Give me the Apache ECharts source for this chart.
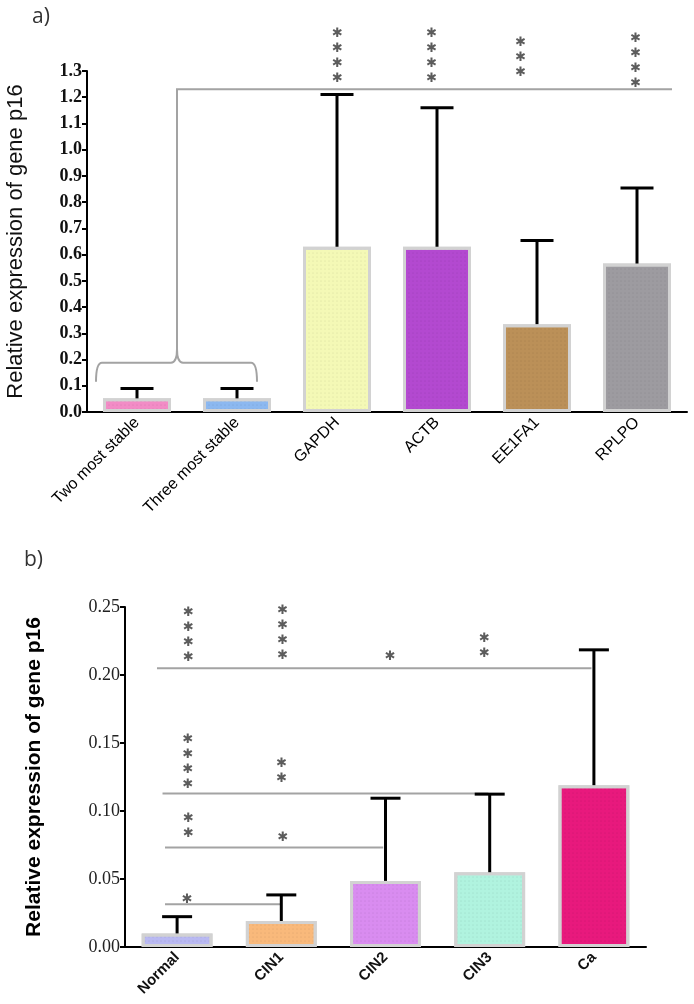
<!DOCTYPE html>
<html><head><meta charset="utf-8">
<script src="https://cdn.jsdelivr.net/npm/echarts@6/dist/echarts.min.js"></script>
<style>html,body{margin:0;padding:0;background:#fff}#c{width:694px;height:1004px}</style>
</head><body><div id="c"></div>
<script>
// ---- panel a) data ----
const topCats = ['Two most stable','Three most stable','GAPDH','ACTB','EE1FA1','RPLPO'];
const topMeans = [0.052, 0.052, 0.630, 0.630, 0.335, 0.566];
const topUpper = [0.090, 0.090, 1.210, 1.160, 0.654, 0.854];
const topColors = ['#f28cc6','#8cb8f0','#f4f9b6','#b349d0','#bb9058','#9d9ba0'];
const topStarX = [2.505, 3.447, 4.337, 5.487];
const topStarY = [1.240, 1.240, 1.263, 1.221];
const topStarN = [4, 4, 3, 4];
// bracket: vertical from brace tip to line, then line across
const topBracePts = [[0.09,0.115],[0.90,0.188],[1.70,0.115]]; // left end, centre, right end
const topBraceTip = 0.24;
const topLine = [0.90, 5.85, 1.23];
// ---- panel b) data ----
const botCats = ['Normal','CIN1','CIN2','CIN3','Ca'];
const botMeans = [0.0100, 0.0191, 0.0486, 0.0550, 0.1190];
const botUpper = [0.0223, 0.0383, 0.1094, 0.1124, 0.2185];
const botColors = ['#b9b9f2','#f9b97b','#d98cf0','#b0f3df','#e8197d'];
const botStarX = [0.610, 1.513, 2.546, 3.449, 0.604, 1.504, 0.608, 1.515, 0.598];
const botStarY = [0.2069, 0.2086, 0.2074, 0.2101, 0.1137, 0.1181, 0.0776, 0.0749, 0.0291];
const botStarN = [4, 4, 1, 2, 4, 2, 2, 1, 1];
const botLineX1 = [0.307, 0.360, 0.384, 0.384];
const botLineX2 = [4.477, 3.487, 2.478, 1.489];
const botLineY  = [0.205, 0.1128, 0.0731, 0.0314];

const STAR = '\u2731';
const chart = echarts.init(document.getElementById('c'));

function decalFor(){
  return {symbol:'circle', symbolSize:0.6, dashArrayX:[[2,2]], dashArrayY:[2,2], color:'rgba(0,0,0,0.13)'};
}
function barData(means, colors){
  return means.map((v,i)=>({value:v, itemStyle:{color:colors[i], decal:decalFor()}}));
}
function errRender(capW){
  return function(params, api){
    const x = api.value(0);
    const base = api.coord([x, api.value(1)]);
    const top = api.coord([x, api.value(2)]);
    const st = {stroke:'#000', lineWidth:3};
    return {type:'group', children:[
      {type:'line', shape:{x1:base[0], y1:base[1], x2:top[0], y2:top[1]}, style:st},
      {type:'line', shape:{x1:top[0]-capW/2, y1:top[1], x2:top[0]+capW/2, y2:top[1]}, style:st}
    ]};
  };
}
function starSeries(xs, ys, ns, xi, yi){
  return {
    type:'scatter', xAxisIndex:xi, yAxisIndex:yi, clip:false, symbolSize:1, z:10,
    itemStyle:{color:'rgba(0,0,0,0)'},
    data: xs.map((x,i)=>[x, ys[i], ns[i]]),
    label:{show:true, position:'top', distance:0,
      formatter:p=>Array(p.value[2]).fill(STAR).join('\n'),
      fontSize:13, lineHeight:15, color:'#333', fontFamily:'DejaVu Sans'}
  };
}
const grayLine = {stroke:'#a3a3a3', lineWidth:2, fill:null};

const option = {
  animation:false,
  backgroundColor:'#fff',
  graphic:[
    {type:'text', left:32, top:7, style:{text:'a)', font:'21px "Open Sans"', fill:'#333'}},
    {type:'text', left:24, top:550, style:{text:'b)', font:'21px "Open Sans"', fill:'#333'}}
  ],
  grid:[
    {left:87, top:71, width:600, height:341, outerBoundsMode:'none', containLabel:false},
    {left:125, top:607, width:521, height:340, outerBoundsMode:'none', containLabel:false}
  ],
  xAxis:[
    {type:'category', gridIndex:0, data:topCats,
      axisLine:{lineStyle:{color:'#000', width:2}},
      axisTick:{alignWithLabel:true, length:5, lineStyle:{color:'#000', width:2}},
      axisLabel:{rotate:45, interval:0, margin:8, fontSize:16, color:'#000', fontFamily:'Liberation Sans'}},
    {type:'category', gridIndex:1, data:botCats,
      axisLine:{lineStyle:{color:'#000', width:2}},
      axisTick:{alignWithLabel:true, length:5, lineStyle:{color:'#000', width:2}},
      axisLabel:{rotate:45, interval:0, margin:8, fontSize:15, fontWeight:'bold', color:'#111', fontFamily:'Liberation Sans'}},
    {type:'value', gridIndex:0, min:0, max:6, show:false},
    {type:'value', gridIndex:1, min:0, max:5, show:false}
  ],
  yAxis:[
    {type:'value', gridIndex:0, min:0, max:1.3, interval:0.1,
      name:'Relative expression of gene p16', nameLocation:'middle', nameGap:60,
      nameTextStyle:{fontSize:22, color:'#111', fontFamily:'Liberation Sans'},
      axisLine:{show:true, lineStyle:{color:'#000', width:2}},
      axisTick:{show:true, length:5, lineStyle:{color:'#000', width:2}},
      splitLine:{show:false},
      axisLabel:{formatter:v=>v.toFixed(1), fontSize:18, fontWeight:'bold', color:'#111', fontFamily:'Liberation Serif', margin:5}},
    {type:'value', gridIndex:1, min:0, max:0.25, interval:0.05,
      name:'Relative expression of gene p16', nameLocation:'middle', nameGap:80,
      nameTextStyle:{fontSize:21, fontWeight:'bold', color:'#000', fontFamily:'Liberation Sans'},
      axisLine:{show:true, lineStyle:{color:'#000', width:2}},
      axisTick:{show:true, length:5, lineStyle:{color:'#000', width:2}},
      splitLine:{show:false},
      axisLabel:{formatter:v=>v.toFixed(2), fontSize:18, color:'#222', fontFamily:'Liberation Serif', margin:5}}
  ],
  series:[
    {type:'bar', xAxisIndex:0, yAxisIndex:0, barWidth:'68%',
      itemStyle:{borderColor:'#d2d2d2', borderWidth:3},
      data:barData(topMeans, topColors)},
    {type:'bar', xAxisIndex:1, yAxisIndex:1, barWidth:'68%',
      itemStyle:{borderColor:'#d2d2d2', borderWidth:3},
      data:barData(botMeans, botColors)},
    {type:'custom', xAxisIndex:0, yAxisIndex:0, z:5, renderItem:errRender(33),
      data:topMeans.map((v,i)=>[i, v, topUpper[i]])},
    {type:'custom', xAxisIndex:1, yAxisIndex:1, z:5, renderItem:errRender(30),
      data:botMeans.map((v,i)=>[i, v, botUpper[i]])},
    // bracket of panel a)
    {type:'custom', xAxisIndex:2, yAxisIndex:0, z:4, clip:false,
      data:[[0]],
      renderItem:function(params, api){
        const L = api.coord(topBracePts[0]), C = api.coord(topBracePts[1]), R = api.coord(topBracePts[2]);
        const T = api.coord([topBracePts[1][0], topBraceTip]);
        const A = api.coord([topLine[0], topLine[2]]), B = api.coord([topLine[1], topLine[2]]);
        const r = 6;
        const d = 'M'+L[0]+' '+L[1]+' Q'+L[0]+' '+C[1]+' '+(L[0]+r)+' '+C[1]+
          ' L'+(C[0]-r)+' '+C[1]+' Q'+C[0]+' '+C[1]+' '+C[0]+' '+T[1]+
          ' Q'+C[0]+' '+C[1]+' '+(C[0]+r)+' '+C[1]+
          ' L'+(R[0]-r)+' '+C[1]+' Q'+R[0]+' '+C[1]+' '+R[0]+' '+R[1]+
          ' M'+C[0]+' '+T[1]+' L'+A[0]+' '+A[1]+' L'+B[0]+' '+B[1];
        return {type:'path', shape:{pathData:d}, style:grayLine};
      }},
    // significance lines of panel b)
    {type:'custom', xAxisIndex:3, yAxisIndex:1, z:4, clip:false,
      data:botLineY.map((y,i)=>[botLineX1[i], botLineX2[i], y]),
      renderItem:function(params, api){
        const a = api.coord([api.value(0), api.value(2)]);
        const b = api.coord([api.value(1), api.value(2)]);
        return {type:'line', shape:{x1:a[0], y1:a[1], x2:b[0], y2:b[1]}, style:grayLine};
      }},
    starSeries(topStarX, topStarY, topStarN, 2, 0),
    starSeries(botStarX, botStarY, botStarN, 3, 1)
  ]
};
chart.setOption(option);
</script></body></html>
